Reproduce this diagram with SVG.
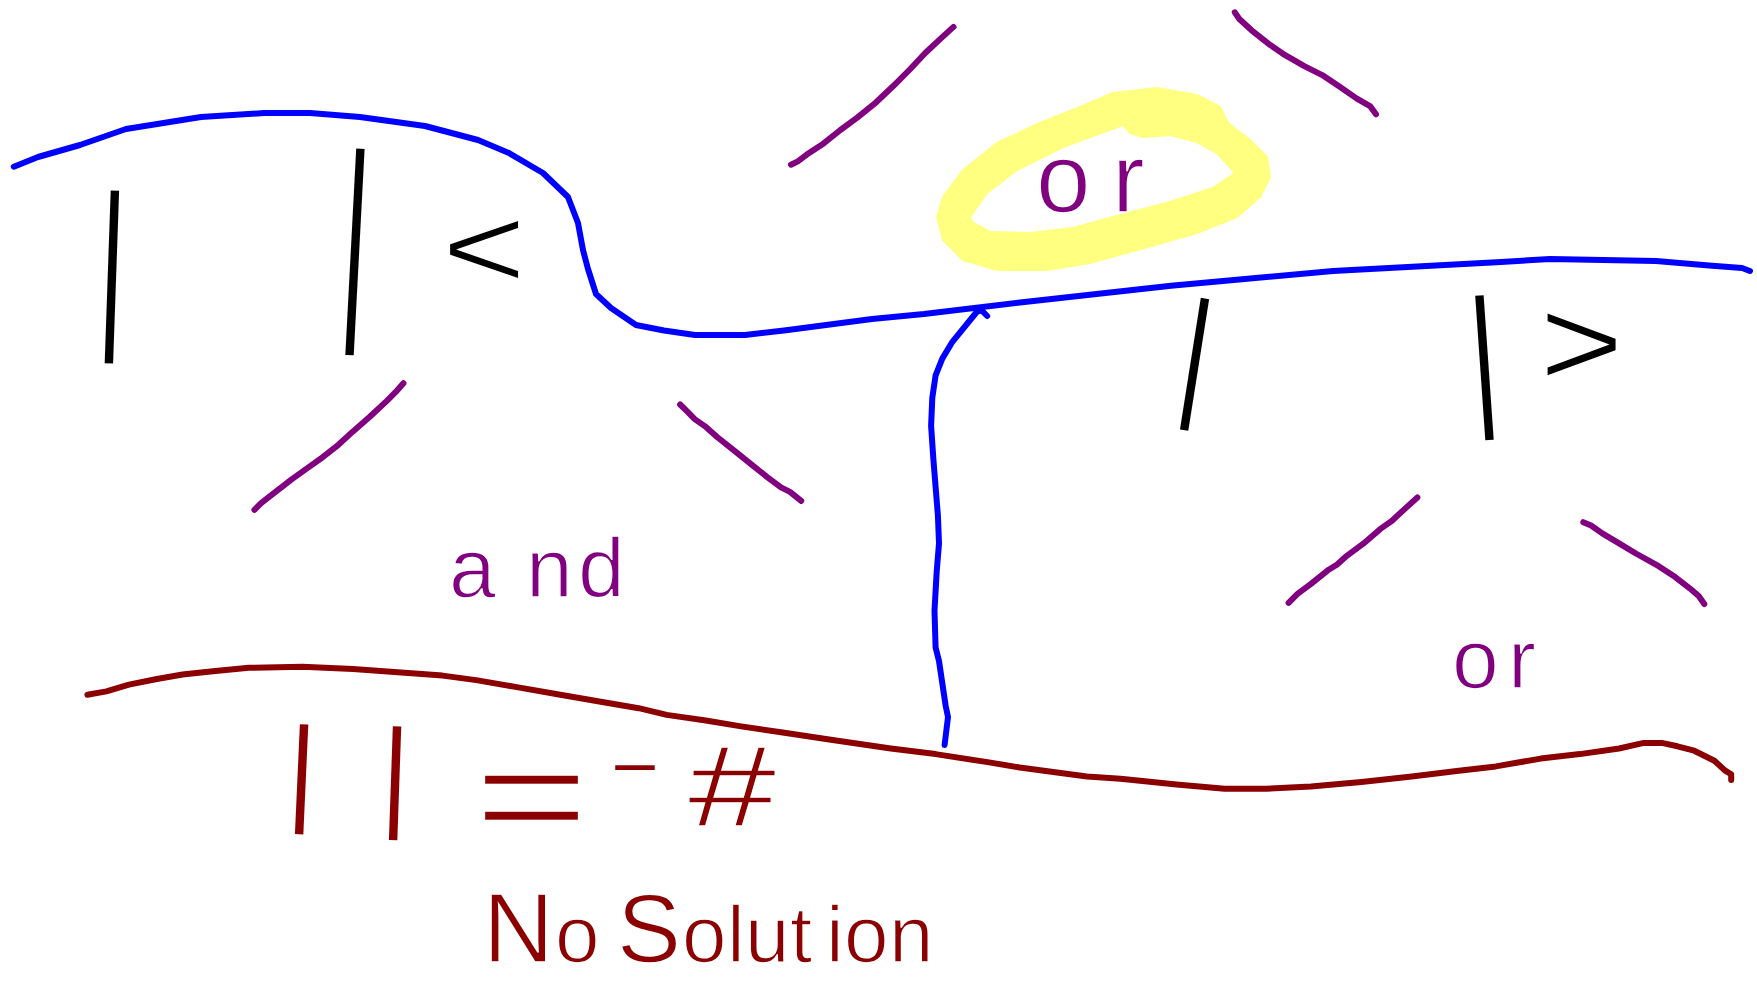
<svg xmlns="http://www.w3.org/2000/svg" width="1757" height="983" viewBox="0 0 1757 983">
<style>
.ln{fill:none;stroke-width:6;stroke-linecap:round;stroke-linejoin:round}
.blue{stroke:#0000FF}
.purple{stroke:#800080}
.red{stroke:#8B0000}
text{font-family:"Liberation Sans",Arial,sans-serif}
.k{fill:#000000}
.p{fill:#800080}
.r{fill:#8B0000}
.bar{font-size:104px;text-anchor:middle}
.sym{text-anchor:middle;stroke:#ffffff;stroke-width:1.8;vector-effect:non-scaling-stroke}
.thin{stroke:#ffffff;stroke-width:1.5}
</style>
<rect width="1757" height="983" fill="#ffffff"/>
<g id="connectors">
<path class="ln blue" d="M13.8,166.7 L38,157 L80,145 L126,129 L201,117 L264,113 L310,113 L360,117 L425,126 L478,140 L509,153 L543,173 L568,197 L578,223 L583,250 L588,269 L596,294 L611,308 L636,325 L664,330.5 L695,335 L745,335 L784,330.5 L872,319 L924,314 L1020,302.5 L1171,285.7 L1333,271 L1501,262 L1550,259 L1656,261 L1709,265.6 L1742,268 L1750,271"/>
<path class="ln blue" d="M944.6,745 L948,717 L945.7,706 L939,661 L935.6,647.6 L934.5,610.7 L936.7,571.5 L939,543.4 L937.9,515.4 L933.4,459.4 L931.1,425.8 L932.3,397.8 L935.6,375.4 L942.3,358.6 L952.4,341.8 L977.1,311.5 L981.6,310.4 L987.2,316"/>
<path class="ln red" d="M87.4,694.7 L106.4,691.4 L128.9,684.6 L156.9,679 L182.6,674.5 L212.9,671.2 L248.8,667.8 L302.5,666.7 L353,669 L397.8,672.3 L442.6,675.6 L476.2,680.1 L515.4,686.9 L560.3,694.7 L605.1,702.5 L638.7,708.2 L666.7,714.9 L705.9,720.5 L739.5,726.1 L784.4,732.8 L829.2,739.5 L890.8,748.5 L935.6,754.1 L986,761.9 L1019.7,767.5 L1053.3,772 L1086.9,776.5 L1120.5,778.7 L1176.5,784.4 L1224.7,788.8 L1266.2,788.8 L1311,786.6 L1361.4,782.1 L1411.8,776.5 L1456.7,770.9 L1495.9,766.4 L1540.7,758.6 L1579.9,754.1 L1619.1,748.5 L1643.8,742.9 L1661.7,742.9 L1677.4,746.3 L1694.2,750.7 L1714.4,760.8 L1725.6,770.9 L1731.2,774.3 L1731.2,779.9"/>
<path class="ln purple" d="M791,164.7 L797.8,161.4 L806.8,154.6 L823.6,143.4 L840.4,130 L857.2,117.7 L874,104.2 L893,86.3 L909.8,69.5 L925.5,52.7 L941.2,38.1 L953.5,26.9"/>
<path class="ln purple" d="M1234.8,12.3 L1239.3,19 L1251.6,30.3 L1268.4,43.7 L1283,53.8 L1304.3,66.1 L1322.2,75.1 L1339,86.3 L1356.9,98.6 L1370.4,106.4 L1376,114.3"/>
<path class="ln purple" d="M254.4,509.8 L261.1,503.1 L276.8,490.8 L291.3,479.6 L307,468.4 L322.7,457.2 L338.4,444.8 L353,431.4 L369.8,416.8 L386.6,401.1 L395.5,392.2 L403.4,383.2"/>
<path class="ln purple" d="M680.1,404.5 L686.9,411.2 L694.7,419.1 L705.9,426.9 L717.1,437 L733.9,450.4 L750.7,463.9 L767.5,477.3 L781,487.4 L790,491.9 L801.2,500.9"/>
<path class="ln purple" d="M1288.6,602.8 L1297.5,593.9 L1311,583.8 L1327.8,570.3 L1336.8,564.7 L1346.8,555.8 L1363.6,543.4 L1380.4,528.9 L1391.7,521 L1406.2,507.6 L1417.4,497.5"/>
<path class="ln purple" d="M1583.3,522.2 L1591.1,525.5 L1602.3,533.4 L1619.1,543.4 L1635.9,553.5 L1658.3,565.9 L1675.2,577.1 L1689.7,588.3 L1698.7,596.1 L1704.3,604"/>
</g>
<g id="abs-less">
<text class="bar k" transform="translate(112,276.5) rotate(2) scale(1,1.773)" y="26.9">|</text>
<text class="bar k" transform="translate(355,251.5) rotate(3) scale(1,2.122)" y="26.9">|</text>
<text class="sym k" font-size="90" transform="translate(484,246.5) scale(1.6,1.3)" y="32">&lt;</text>
</g>
<g id="or-top">
<path fill="#FFFF80" stroke="#FFFF80" stroke-width="2" stroke-linejoin="round" fill-rule="evenodd" d="M937,217 L943,197 L963,170 L997,143 L1040,123 L1080,107 L1113,93 L1157,88 L1197,95 L1220,107 L1228,123 L1250,140 L1267,157 L1270,177 L1260,197 L1237,217 L1197,233 L1137,250 L1090,263 L1047,270 L997,270 L963,260 L943,240 Z M970,217 L987,193 L1017,170 L1063,147 L1123,125 L1130,133 L1143,137 L1170,135 L1197,142 L1217,153 L1235,173 L1213,188 L1170,202 L1113,217 L1073,228 L1030,233 L990,232 L973,223 Z"/>
<text class="p thin" font-size="98" x="1036 1112" y="212">or</text>
</g>
<g id="and-label">
<text class="p thin" font-size="84" x="449 526 578" y="597">and</text>
</g>
<g id="abs-greater">
<text class="bar k" transform="translate(1194.5,364) rotate(9) scale(1,1.368)" y="26.9">|</text>
<text class="bar k" transform="translate(1484.5,367.5) rotate(-4) scale(1,1.486)" y="26.9">|</text>
<text class="sym k" font-size="90" transform="translate(1581.5,341) scale(1.6,1.4)" y="32">&gt;</text>
</g>
<g id="or-right">
<text class="p thin" font-size="84" x="1452 1508" y="688">or</text>
</g>
<g id="abs-equals-negative">
<text class="bar r" transform="translate(301.5,779) rotate(2.6) scale(1,1.128)" y="26.9">|</text>
<text class="bar r" transform="translate(395,783) rotate(2) scale(1,1.169)" y="26.9">|</text>
<text class="sym r" font-size="90" transform="translate(531.5,793.5) scale(2.2,1.6)" y="32" style="stroke-width:3">=</text>
<text class="r" font-size="60" text-anchor="middle" transform="translate(635,766.5) scale(2.7,1)" y="16.3">-</text>
<text class="sym r" font-size="110" transform="translate(732,785.5) scale(1.45,1.05)" y="39" style="stroke-width:2">#</text>
</g>
<g id="no-solution">
<text class="r thin" y="962"><tspan x="483" font-size="98">N</tspan><tspan x="555" font-size="80">o</tspan> <tspan x="617" font-size="96">S</tspan><tspan x="682 727 745 790 826 844 889" font-size="80">olution</tspan></text>
</g>
</svg>
